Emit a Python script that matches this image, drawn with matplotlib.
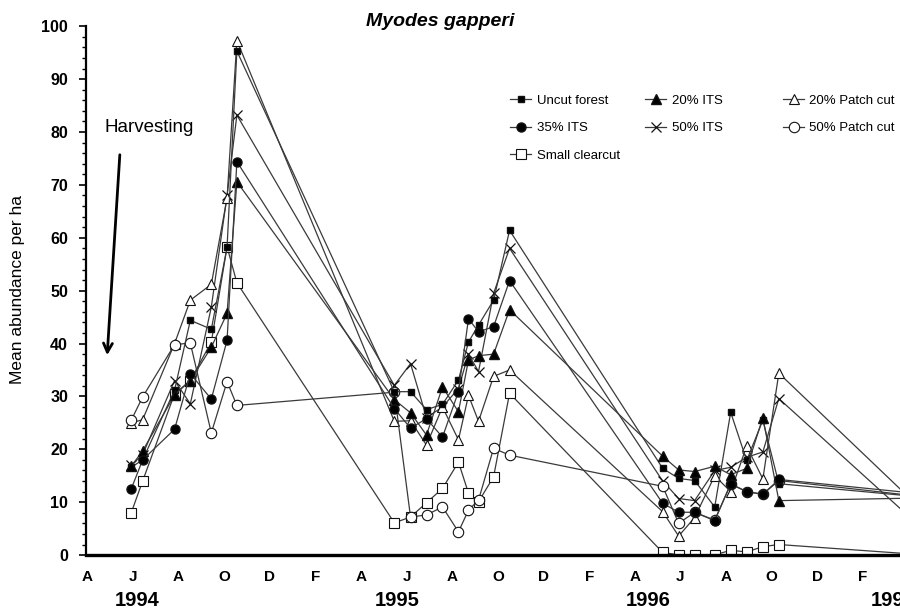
import numpy as np
import matplotlib
matplotlib.use("Agg")
import matplotlib.pyplot as plt
from matplotlib.patches import FancyArrowPatch
from matplotlib.transforms import blended_transform_factory

plt.rcParams['font.family'] = ['Liberation Sans', 'DejaVu Sans']

# --- Data (x = months since April 1994) ---
months = [1.93, 2.43, 3.83, 4.52, 5.44, 6.13, 6.56,
          13.46, 14.17, 14.87, 15.57, 16.27, 16.71, 17.15, 17.81, 18.51,
          25.22, 25.92, 26.62, 27.50, 28.20, 28.90, 29.61, 30.31,
          36.5]

uncut = [16.6, 18.0, 31.2, 44.4, 42.7, 58.2, 95.3,
         30.9, 30.9, 27.5, 28.5, 33.1, 40.3, 43.5, 48.2, 61.4,
         16.4, 14.5, 14.1, 9.1, 27.0, 17.9, 25.5, 13.5,
         11.0]
its20 = [16.8, 19.7, 30.3, 33.0, 39.3, 45.7, 70.6,
         29.4, 26.9, 22.7, 31.8, 27.1, 36.9, 37.7, 38.0, 46.4,
         18.7, 16.1, 15.8, 16.8, 15.2, 16.4, 26.0, 10.3,
         10.8]
its35 = [12.5, 18.0, 23.8, 34.3, 29.5, 40.6, 74.4,
         27.7, 24.0, 25.8, 22.3, 30.9, 44.7, 42.2, 43.2, 51.9,
         9.8, 8.1, 8.1, 6.5, 13.5, 12.0, 11.5, 14.3,
         11.6]
its50 = [17.0, 19.0, 33.0, 28.6, 46.9, 68.0, 83.2,
         32.1, 36.2, 26.0, 28.0, 31.5, 38.0, 34.7, 49.5, 58.0,
         14.0, 10.7, 10.3, 16.0, 16.6, 18.5, 19.5, 29.6,
         5.4]
patch20 = [25.0, 25.6, 40.0, 48.2, 51.2, 67.5, 97.3,
           25.3, 25.4, 20.8, 28.0, 21.8, 30.2, 25.3, 33.8, 35.0,
           8.2, 3.6, 7.1, 15.0, 12.0, 20.6, 14.4, 34.4,
           8.9]
patch50 = [25.5, 29.9, 39.8, 40.1, 23.1, 32.8, 28.3,
           30.8, 7.2, 7.6, 9.1, 4.4, 8.5, 10.4, 20.2, 18.9,
           13.0, 6.0, 8.1, 6.6, 13.4, 12.0, 11.5, 14.1,
           11.1]
clearcut = [8.0, 14.0, 30.5, 33.0, 40.3, 58.3, 51.5,
            6.1, 7.2, 9.9, 12.6, 17.6, 11.7, 10.1, 14.8, 30.6,
            0.5, 0.05, 0.05, 0.05, 0.9, 0.6, 1.6, 2.0,
            0.1]

tick_letters = ['A', 'J', 'A', 'O', 'D', 'F'] * 3
years = ['1994', '1995', '1996', '1997']
year_pos = [2.2, 13.6, 24.6, 35.3]

# --- Figure ---
fig = plt.figure(figsize=(9, 6.1), dpi=100)
ax = fig.add_axes([0.0956, 0.090, 0.9044, 0.867])

line_kw = dict(color='#3a3a3a', linewidth=0.9, markeredgecolor='#111111')
series = [
    ('Uncut forest', uncut, dict(marker='s', markersize=4.5, markerfacecolor='black', zorder=4)),
    ('35% ITS', its35, dict(marker='o', markersize=6.5, markerfacecolor='black', zorder=5)),
    ('Small clearcut', clearcut, dict(marker='s', markersize=6.5, markerfacecolor='white', markeredgewidth=0.8, zorder=3)),
    ('20% ITS', its20, dict(marker='^', markersize=6.5, markerfacecolor='black', zorder=4)),
    ('50% ITS', its50, dict(marker='x', markersize=7, markeredgewidth=0.9, zorder=3)),
    ('20% Patch cut', patch20, dict(marker='^', markersize=7.5, markerfacecolor='white', markeredgewidth=0.8, zorder=3)),
    ('50% Patch cut', patch50, dict(marker='o', markersize=7.5, markerfacecolor='white', markeredgewidth=0.8, zorder=3)),
]

handles = []
for label, vals, kw in series:
    h, = ax.plot(months, vals, label=label, **line_kw, **kw)
    handles.append(h)

ax.set_xlim(-0.05, 35.62)
ax.set_ylim(0, 100)

ax.spines['top'].set_visible(False)
ax.spines['right'].set_visible(False)
ax.spines['left'].set_linewidth(1.6)
ax.spines['bottom'].set_linewidth(2.4)
ax.spines['bottom'].set_zorder(6)

ax.set_xticks(np.arange(0, 36, 2))
ax.set_xticklabels(tick_letters, fontweight='bold', fontsize=11)
ax.tick_params(axis='x', length=0, pad=10.5)

ax.set_yticks(np.arange(0, 101, 10))
ax.set_yticks(np.arange(0, 101, 2), minor=True)
ax.tick_params(axis='y', which='major', length=5, width=1.2, direction='out', pad=8)
ax.tick_params(axis='y', which='minor', length=3, width=1.0, direction='out')
for t in ax.get_yticklabels():
    t.set_fontweight('bold')
    t.set_fontsize(11.5)

trans = blended_transform_factory(ax.transData, ax.transAxes)
for yr, xp in zip(years, year_pos):
    ax.text(xp, -0.085, yr, transform=trans, ha='center', va='center',
            fontsize=14.5, fontweight='bold', clip_on=False)

# legend laid out as three separate columns
cols = [(handles[0:3], 0.567), (handles[3:5], 0.717), (handles[5:7], 0.870)]
for hs, xa in cols:
    fig.legend(handles=hs, loc='upper left', bbox_to_anchor=(xa, 0.845),
               frameon=False, fontsize=9.5, handlelength=1.6, handletextpad=0.4,
               labelspacing=1.15, borderpad=0, borderaxespad=0)

fig.text(440 / 900, 1 - 22 / 610, 'Myodes gapperi', ha='center', va='center',
         fontsize=14, fontweight='bold', fontstyle='italic')
fig.text(18 / 900, 1 - 290 / 610, 'Mean abundance per ha', rotation=90,
         ha='center', va='center', fontsize=12.5)
fig.text(105 / 900, 1 - 127 / 610, 'Harvesting', ha='left', va='center', fontsize=13.5)
fig.add_artist(FancyArrowPatch(
    (120 / 900, 1 - 152 / 610), (107 / 900, 1 - 358 / 610),
    transform=fig.transFigure, arrowstyle='->', mutation_scale=16,
    linewidth=2.0, color='black'))

fig.savefig('out.png', dpi=100)
